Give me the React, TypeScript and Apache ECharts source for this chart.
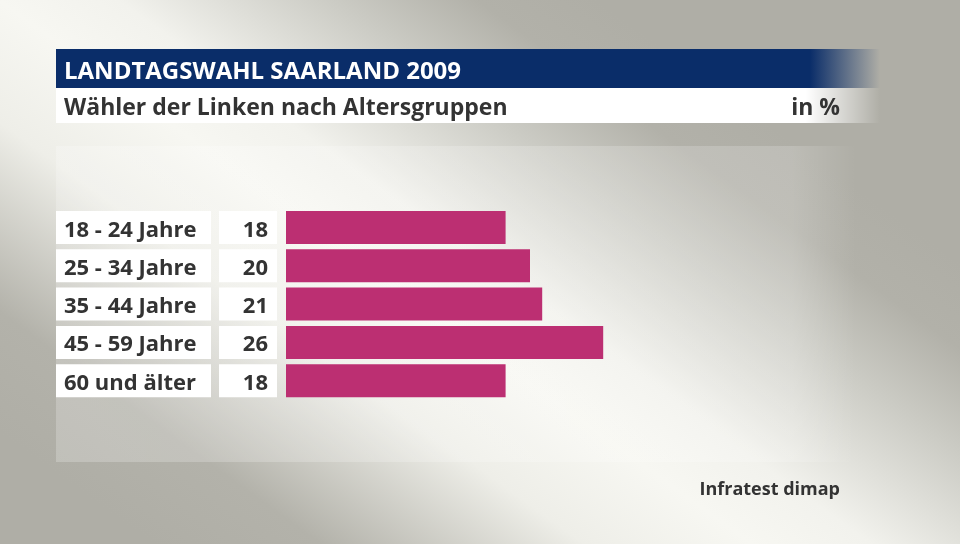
import React, { useEffect, useRef } from "react";
import * as echarts from "echarts";

const categories = ["18 - 24 Jahre", "25 - 34 Jahre", "35 - 44 Jahre", "45 - 59 Jahre", "60 und älter"];
const values = [18, 20, 21, 26, 18];
const title = "LANDTAGSWAHL SAARLAND 2009";
const subtitle = "Wähler der Linken nach Altersgruppen";
const unitLabel = "in %";
const source = "Infratest dimap";

const FONT = "'Open Sans', 'Noto Sans', sans-serif";
const TEXT = "#333333";
const BAR = "#bc2f72";

export default function App() {
  const ref = useRef<HTMLDivElement>(null);
  useEffect(() => {
    if (!ref.current) return;
    const chart = echarts.init(ref.current, null, { renderer: "svg" });
    const bg = new echarts.graphic.LinearGradient(195, 574, 605, 6, [
      { offset: 0, color: "#afaea6" },
      { offset: 0.14, color: "#b3b2aa" },
      { offset: 0.36, color: "#eeeee8" },
      { offset: 0.5, color: "#f7f7f2" },
      { offset: 0.6, color: "#f2f2ed" },
      { offset: 0.78, color: "#cbcbc4" },
      { offset: 0.9, color: "#b2b1a9" },
      { offset: 1, color: "#afaea6" },
    ], true);
    chart.setOption({
      animation: false,
      graphic: [
        { type: "rect", z: -10, shape: { x: 0, y: 0, width: 960, height: 544 }, style: { fill: bg } },
        {
          type: "rect", z: -9, shape: { x: 56, y: 146, width: 800, height: 316 },
          style: {
            fill: new echarts.graphic.LinearGradient(0, 0, 1, 0, [
              { offset: 0, color: "rgba(255,255,255,0.22)" },
              { offset: 0.92, color: "rgba(255,255,255,0.18)" },
              { offset: 1, color: "rgba(255,255,255,0)" },
            ]),
          },
        },
        {
          type: "rect", shape: { x: 56, y: 49, width: 824, height: 39 },
          style: {
            fill: new echarts.graphic.LinearGradient(0, 0, 1, 0, [
              { offset: 0, color: "#0a2d69" },
              { offset: 0.915, color: "#0a2d69" },
              { offset: 1, color: "rgba(10,45,105,0)" },
            ]),
          },
        },
        {
          type: "rect", shape: { x: 56, y: 88, width: 824, height: 35 },
          style: {
            fill: new echarts.graphic.LinearGradient(0, 0, 1, 0, [
              { offset: 0, color: "#ffffff" },
              { offset: 0.91, color: "#ffffff" },
              { offset: 1, color: "rgba(255,255,255,0)" },
            ]),
          },
        },
        {
          type: "text", x: 64, y: 69,
          style: { text: title, fill: "#ffffff", font: `bold 24px ${FONT}`, verticalAlign: "middle" },
        },
        {
          type: "text", x: 64, y: 106,
          style: { text: subtitle, fill: TEXT, font: `bold 23px ${FONT}`, verticalAlign: "middle" },
        },
        {
          type: "text", x: 840, y: 106,
          style: { text: unitLabel, fill: TEXT, font: `bold 23px ${FONT}`, verticalAlign: "middle", align: "right" },
        },
        {
          type: "text", x: 840, y: 488,
          style: { text: source, fill: TEXT, font: `bold 18px ${FONT}`, verticalAlign: "middle", align: "right" },
        },
      ],
      grid: { left: 286, top: 208.35, width: 610, height: 191.5, containLabel: false },
      xAxis: { type: "value", min: 0, max: 50, show: false },
      yAxis: [
        {
          type: "category", data: categories, inverse: true,
          axisLine: { show: false }, axisTick: { show: false }, splitLine: { show: false },
          axisLabel: {
            margin: 230, align: "left", verticalAlign: "middle",
            backgroundColor: "#ffffff", width: 147, height: 33, lineHeight: 33,
            padding: [0, 0, 0, 8], fontFamily: FONT, fontWeight: "bold", fontSize: 22, color: TEXT,
          },
        },
        {
          type: "category", data: values.map(String), inverse: true, position: "left",
          axisLine: { show: false }, axisTick: { show: false }, splitLine: { show: false },
          axisLabel: {
            margin: 9, align: "right", verticalAlign: "middle",
            backgroundColor: "#ffffff", width: 49, height: 33, lineHeight: 33,
            padding: [0, 9, 0, 0], fontFamily: FONT, fontWeight: "bold", fontSize: 22, color: TEXT,
          },
        },
      ],
      series: [
        {
          type: "bar", data: values, yAxisIndex: 0, barWidth: 33,
          itemStyle: { color: BAR },
        },
      ],
    });
    return () => chart.dispose();
  }, []);
  return <div ref={ref} style={{ position: "fixed", left: 0, top: 0, width: 960, height: 544 }} />;
}
